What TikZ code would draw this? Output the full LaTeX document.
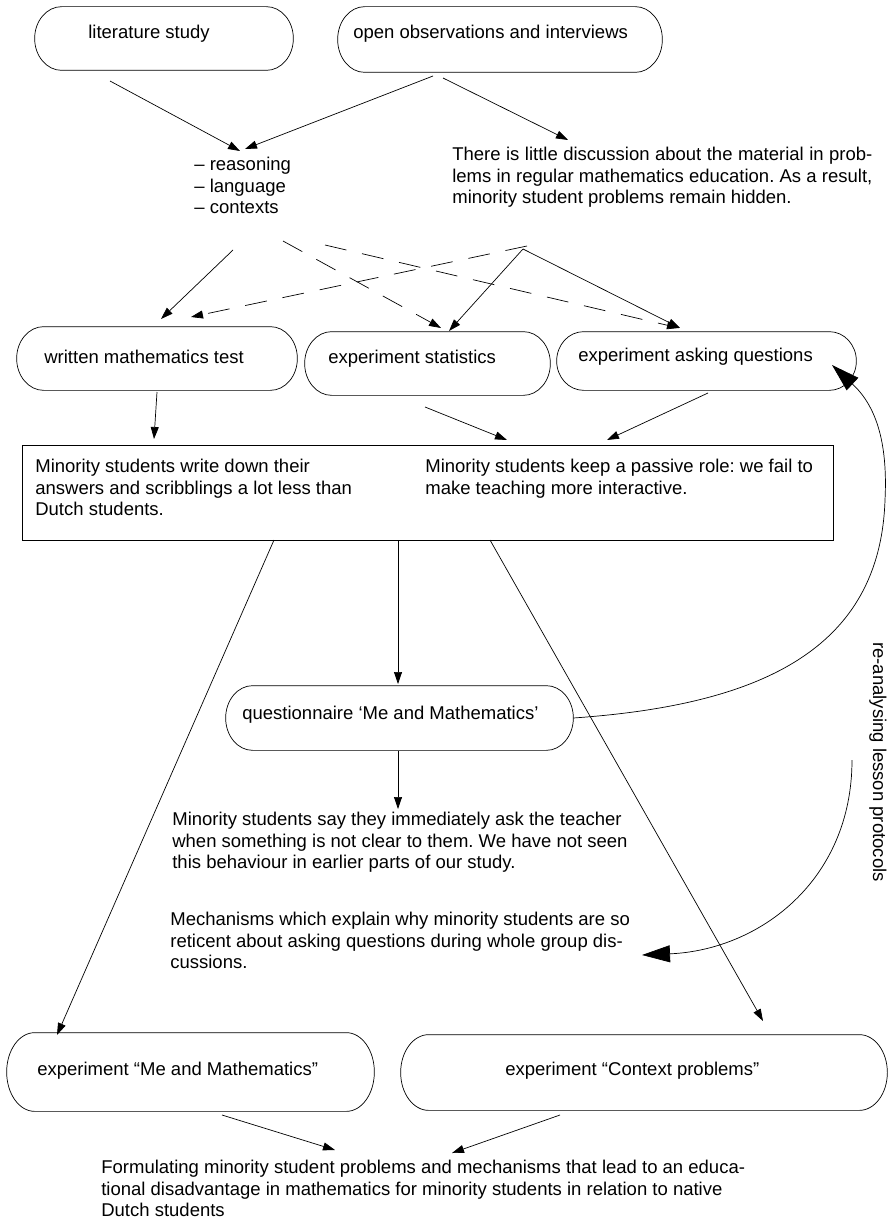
\documentclass[tikz,border=0pt]{standalone}
\usepackage{fontspec}
\setmainfont{Liberation Sans}
\usetikzlibrary{arrows.meta,calc}
\newcommand\stadiumoutline[2]{%
  \draw let \p1=(#1.north west), \p2=(#1.south east), \n1={(\y1-\y2)/2} in
    (\x1+#2,\y1) -- (\x2-#2,\y1) arc[start angle=90,end angle=-90,x radius=#2,y radius=\n1]
    -- (\x1+#2,\y2) arc[start angle=270,end angle=90,x radius=#2,y radius=\n1] -- cycle;}
\begin{document}
\frenchspacing
\begin{tikzpicture}[x=1pt,y=-1pt, line width=0.7pt,
  font=\fontsize{18.5}{21.5}\selectfont,
  stadium/.style={inner sep=0pt},
  plainbox/.style={draw, inner sep=0pt},
  txt/.style={inner sep=0pt, align=left},
  arr/.style={-{Triangle[length=12pt,width=8pt]}},
  dsh/.style={-{Triangle[length=12pt,width=8pt]}, dash pattern=on 22pt off 16pt},
  bigarr/.style={-{Triangle[length=28pt,width=17pt]}}]
\useasboundingbox (0,0) rectangle (890,1220);

% boxes
\node[stadium, minimum width=258pt, minimum height=63pt] (lit) at (164,38.5) {};
\node[stadium, minimum width=324pt, minimum height=65pt] (open) at (500,39.5) {};
\node[stadium, minimum width=280pt, minimum height=63pt] (written) at (157,358.5) {};
\node[stadium, minimum width=245pt, minimum height=63pt] (stats) at (427.5,363.5) {};
\node[stadium, minimum width=299pt, minimum height=58pt] (asking) at (706.5,361) {};
\node[plainbox, minimum width=811pt, minimum height=95pt] (big) at (427.5,492.5) {};
\node[stadium, minimum width=347pt, minimum height=64pt] (quest) at (399.5,718) {};
\node[stadium, minimum width=367pt, minimum height=78pt] (mem) at (190.5,1072) {};
\node[stadium, minimum width=486pt, minimum height=75pt] (ctx) at (644,1072.5) {};
\stadiumoutline{lit}{27pt}
\stadiumoutline{open}{27pt}
\stadiumoutline{written}{27pt}
\stadiumoutline{stats}{27pt}
\stadiumoutline{asking}{27pt}
\stadiumoutline{quest}{27pt}
\stadiumoutline{mem}{28pt}
\stadiumoutline{ctx}{28pt}

% texts
\node[txt, anchor=west] (tlit) at (88,34) {literature study};
\node[txt, anchor=west] (topen) at (353,34) {open observations and interviews};
\node[txt, anchor=north west] (tlist) at (194,157) {– reasoning\\– language\\– contexts};
\node[inner sep=0pt, anchor=north west, text width=420pt, align=justify] (tobs) at (452,147)
  {There is little discussion about the material in prob-\linebreak lems in regular mathematics education. As a result,\linebreak minority student problems remain hidden.};
\node[txt, anchor=west] (twritten) at (44,357) {written mathematics test};
\node[txt, anchor=west] (tstats) at (328,359) {experiment statistics};
\node[txt, anchor=west] (tasking) at (578,357) {experiment asking questions};
\node[txt, anchor=north west] (tbigL) at (35,459) {Minority students write down their\\answers and scribblings a lot less than\\Dutch students.};
\node[txt, anchor=north west] (tbigR) at (425,459) {Minority students keep a passive role: we fail to\\make teaching more interactive.};
\node[txt, anchor=west] (tquest) at (242,715) {questionnaire ‘Me and Mathematics’};
\node[txt, anchor=north west] (tsay) at (172,812) {Minority students say they immediately ask the teacher\\when something is not clear to them. We have not seen\\this behaviour in earlier parts of our study.};
\node[txt, anchor=north west] (tmech) at (170,912) {Mechanisms which explain why minority students are so\\reticent about asking questions during whole group dis-\\cussions.};
\node[txt, anchor=west] (tmem) at (37,1071) {experiment “Me and Mathematics”};
\node[txt, anchor=west] (tctx) at (505,1071) {experiment “Context problems”};
\node[txt, anchor=north west] (tform) at (101,1160) {Formulating minority student problems and mechanisms that lead to an educa-\\tional disadvantage in mathematics for minority students in relation to native\\Dutch students};
\node[inner sep=0pt, rotate=-90] (tre) at (878,762) {re-analysing lesson protocols};

% connector end points
\coordinate (a1) at (110,81);   \coordinate (a2) at (240,151);
\coordinate (b1) at (433,76);   \coordinate (b2) at (245,149);
\coordinate (c1) at (443,78);   \coordinate (c2) at (568,140);
\coordinate (d1) at (233,250);  \coordinate (d2) at (161,319);
\coordinate (e1) at (283,241);  \coordinate (e2) at (441,328);
\coordinate (f1) at (325,245);  \coordinate (f2) at (679,328);
\coordinate (g1) at (527,246);  \coordinate (g2) at (191,317);
\coordinate (h1) at (523,249);  \coordinate (h2) at (449,331);
\coordinate (i2) at (680,328);
\coordinate (j1) at (157,392);  \coordinate (j2) at (154,439);
\coordinate (k1) at (425,407);  \coordinate (k2) at (507,440);
\coordinate (l1) at (708,393);  \coordinate (l2) at (607,440);
\coordinate (m1) at (398,541);  \coordinate (m2) at (398,684);
\coordinate (n1) at (274,540);  \coordinate (n2) at (57,1035);
\coordinate (o1) at (490,540);  \coordinate (o2) at (763,1021);
\coordinate (p1) at (398,751);  \coordinate (p2) at (398,809);
\coordinate (q2) at (832,365);
\coordinate (r1) at (852,760);  \coordinate (r2) at (642,955);
\coordinate (s1) at (222,1115); \coordinate (s2) at (335,1150);
\coordinate (t1) at (560,1115); \coordinate (t2) at (452,1153);

\draw[arr] (a1) -- (a2);
\draw[arr] (b1) -- (b2);
\draw[arr] (c1) -- (c2);
\draw[arr] (d1) -- (d2);
\draw[dsh] (e1) -- (e2);
\draw[dsh] (f1) -- (f2);
\draw[dsh] (g1) -- (g2);
\draw[arr] (h1) -- (h2);
\draw[arr] (h1) -- (i2);
\draw[arr] (j1) -- (j2);
\draw[arr] (k1) -- (k2);
\draw[arr] (l1) -- (l2);
\draw[arr] (m1) -- (m2);
\draw[arr] (n1) -- (n2);
\draw[arr] (o1) -- (o2);
\draw[arr] (p1) -- (p2);
\draw[bigarr] (quest.east) .. controls (760,705) and (880,650) .. (885,500)
  .. controls (888,440) and (875,405) .. (q2);
\draw[bigarr] (r1) .. controls (852,880) and (760,950) .. (r2);
\draw[arr] (s1) -- (s2);
\draw[arr] (t1) -- (t2);
\end{tikzpicture}
\end{document}
